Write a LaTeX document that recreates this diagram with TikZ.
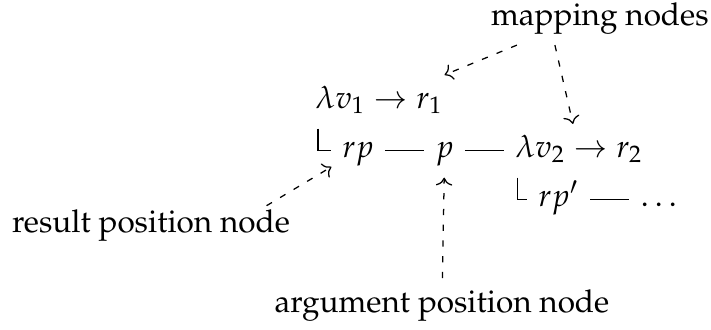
\documentclass[tikz,border=0pt]{standalone}
\usepackage[T1]{fontenc}
\usepackage{mathpazo}
\usepackage{tikz}
\usetikzlibrary{arrows.meta, positioning}

\begin{document}
\begin{tikzpicture}[
    node distance=0.44cm,
    term/.style={
        inner sep=0.3333em,
        text height=0.7em,
        text depth=0.3em
    },
    note/.style={
        inner sep=0.3333em
    },
    link/.style={
        line width=0.4pt
    },
    pointer/.style={
        -{To},
        line width=0.4pt,
        dash pattern=on 2pt off 3pt
    }
]

\useasboundingbox (0,0) rectangle (7.935,3.672);

% first mapping and its row
\node[term, anchor=base west] (m1) at (3.398,2.466) {$\lambda v_1 \to r_1$};
\node[term, anchor=base west] (rp) at (3.699,1.919) {$rp$};
\node[term, base right=of rp] (p) {$p$};
\node[term, base right=of p] (m2) {$\lambda v_2 \to r_2$};

% second mapping
\node[term, anchor=base west] (rp2) at (5.886,1.373) {$rp'$};
\node[term, base right=of rp2] (dots) {$\dots$};

\draw[link] ([xshift=0.15cm]m1.south west) |- (rp.west);
\draw[link] (rp) -- (p);
\draw[link] (p) -- (m2);
\draw[link] ([xshift=0.15cm]m2.south west) |- (rp2.west);
\draw[link] (rp2) -- (dots);

% ------------------------------------------------------------
% labels
% ------------------------------------------------------------
\node[note, anchor=base] (map) at (6.695,3.392) {mapping nodes};
\node[note, anchor=base] (res) at (1.685,1.082) {result position node};
\node[note, anchor=base] (arg) at (4.932,0.190) {argument position node};

\draw[pointer] ([xshift=-0.926cm]map.south) -- (m1);
\draw[pointer] ([xshift=-0.502cm]map.south) -- (m2);
\draw[pointer] ([xshift=-0.385cm,yshift=-0.084cm]res.north east) -- (rp);
\draw[pointer] (arg) -- (p);

\end{tikzpicture}
\end{document}
